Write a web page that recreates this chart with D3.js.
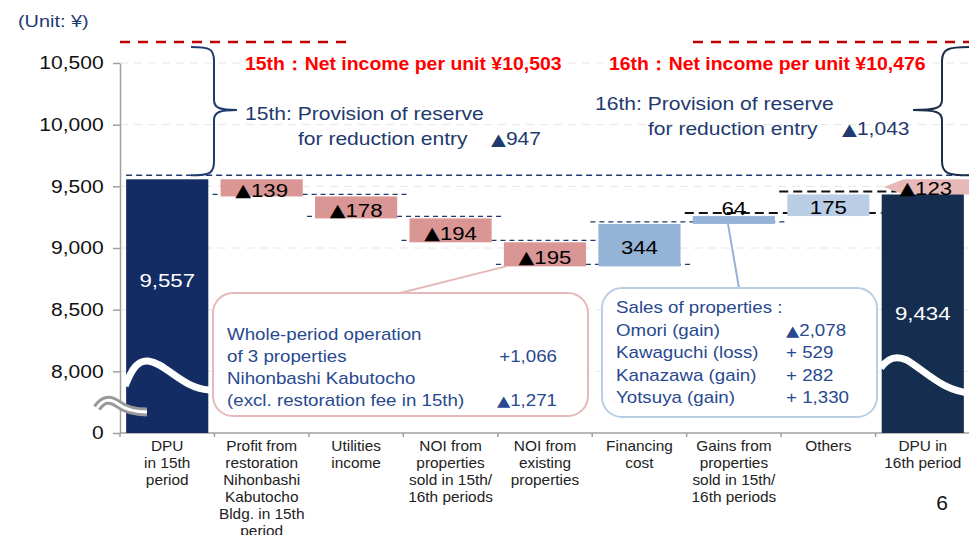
<!DOCTYPE html>
<html>
<head>
<meta charset="utf-8">
<script src="https://cdn.jsdelivr.net/npm/d3@7"></script>
<style>
  html, body { margin: 0; padding: 0; background: #fff; }
  svg { display: block; font-family: "Liberation Sans", Arial, sans-serif; }
</style>
</head>
<body>
<svg id="chart" width="969" height="535"></svg>
<script>
// ---- data ----
var categories = ["dpu15", "restoration", "utilities", "noiSold", "noiExisting", "financing", "gains", "others", "dpu16"];
var categoryLines = [
	["DPU", "in 15th", "period"],
	["Profit from", "restoration", "Nihonbashi", "Kabutocho", "Bldg. in 15th", "period"],
	["Utilities", "income"],
	["NOI from", "properties", "sold in 15th/", "16th periods"],
	["NOI from", "existing", "properties"],
	["Financing", "cost"],
	["Gains from", "properties", "sold in 15th/", "16th periods"],
	["Others"],
	["DPU in", "16th period"]
];
var changes = [9557, -139, -178, -194, -195, 344, 64, 175, 9434];
var isTotal = [true, false, false, false, false, false, false, false, true];
var barLabels = ["9,557", "▲139", "▲178", "▲194", "▲195", "344", "64", "175", "9,434"];
var diff16 = { from: 9557, to: 9434, label: "▲123" };
var yTicks = [7500, 8000, 8500, 9000, 9500, 10000, 10500];
var yTickLabels = ["0", "8,000", "8,500", "9,000", "9,500", "10,000", "10,500"];
var netIncome = [
	{ label: "15th\uFF1ANet income per unit \u00A510,503" },
	{ label: "16th\uFF1ANet income per unit \u00A510,476" }
];
var reserve15 = ["15th: Provision of reserve", "for reduction entry", "▲947"];
var reserve16 = ["16th: Provision of reserve", "for reduction entry", "▲1,043"];
var pinkNote = [
	["Whole-period operation", ""],
	["of 3 properties", "+1,066"],
	["Nihonbashi Kabutocho", ""],
	["(excl. restoration fee in 15th)", "▲1,271"]
];
var blueNote = [
	["Sales of properties :", ""],
	["Omori (gain)", "▲2,078"],
	["Kawaguchi (loss)", "+ 529"],
	["Kanazawa (gain)", "+ 282"],
	["Yotsuya (gain)", "+ 1,330"]
];

// ---- styles ----
var barFills = ["#142c64", "#d99694", "#d99694", "#d99694", "#d99694", "#95b3d7", "#95b3d7", "#b9cde5", "#152e4f"];
var navy = "#1f3a6e", noteBlue = "#28498f";
var SX = 1.17;

var svg = d3.select("#chart");
var width = +svg.attr("width");

var x = d3.scaleBand()
	.domain(categories)
	.range([120, 970])
	.paddingInner(0.13)
	.paddingOuter(0.065);

var y = d3.scaleLinear()
	.domain([7500, 10500])
	.range([433, 63]);

// text with the slide's slightly wide letterforms; ▲ drawn from DejaVu (bigger glyph)
function addText(sel, px, py, s, o) {
	o = o || {};
	var t = sel.append("text")
		.attr("transform", "translate(" + px + "," + py + ") scale(" + (o.sx || SX) + ",1)")
		.attr("text-anchor", o.anchor || "start")
		.attr("dominant-baseline", o.baseline || "auto")
		.attr("font-size", o.size || 16)
		.attr("font-weight", o.weight || "normal")
		.attr("fill", o.fill || "#000");
	var parts = s.split("▲");
	if (parts.length === 1) {
		t.text(s);
	} else {
		parts.forEach(function(p, k) {
			if (k > 0) t.append("tspan").attr("font-family", "DejaVu Sans").attr("font-size", "0.92em").text("▲");
			if (p) t.append("tspan").text(p);
		});
	}
	return t;
}

// running totals
var bars = [];
var level = 0;
changes.forEach(function(v, i) {
	var start, end;
	if (isTotal[i]) { start = 7500; end = v; level = v; }
	else { start = level; end = level + v; level = end; }
	bars.push({ cat: categories[i], start: start, end: end, label: barLabels[i], fill: barFills[i], i: i });
});

// gridlines
svg.append("g")
	.selectAll("line")
	.data(yTicks.slice(1))
	.enter().append("line")
	.attr("x1", 120).attr("x2", width)
	.attr("y1", function(d) { return y(d); })
	.attr("y2", function(d) { return y(d); })
	.attr("stroke", "#e6e6e6")
	.attr("stroke-dasharray", "8,6");

// y axis
var yAxis = svg.append("g")
	.attr("transform", "translate(120,0)")
	.call(d3.axisLeft(y).tickValues(yTicks).tickFormat(function(d, i) { return yTickLabels[i]; })
		.tickSize(7).tickSizeOuter(0).tickPadding(7));
yAxis.select(".domain").attr("stroke", "#a0a0a0").attr("stroke-width", 1.5);
yAxis.selectAll(".tick line").attr("stroke", "#a0a0a0").attr("stroke-width", 1.5);
yAxis.selectAll(".tick text")
	.attr("font-size", 18)
	.attr("font-family", "Liberation Sans, Arial, sans-serif")
	.attr("fill", "#111")
	.attr("transform", "scale(" + SX + ",1)");

// x axis
var step = x.step();
svg.append("line")
	.attr("x1", 120).attr("x2", width)
	.attr("y1", y(7500)).attr("y2", y(7500))
	.attr("stroke", "#a0a0a0").attr("stroke-width", 1.5);
svg.append("g").selectAll("line")
	.data(d3.range(categories.length + 1))
	.enter().append("line")
	.attr("x1", function(i) { return 120 + i * step; })
	.attr("x2", function(i) { return 120 + i * step; })
	.attr("y1", y(7500)).attr("y2", y(7500) + 4)
	.attr("stroke", "#a0a0a0").attr("stroke-width", 1.5);

var xLabels = svg.append("g");
categoryLines.forEach(function(lines, i) {
	lines.forEach(function(s, k) {
		addText(xLabels, x(categories[i]) + x.bandwidth() / 2, 451 + k * 17, s,
			{ anchor: "middle", size: 14, sx: 1.1, fill: "#222" });
	});
});

// ---- connectors (behind bars) ----
var conn = svg.append("g");
conn.append("line")
	.attr("x1", x(categories[0])).attr("x2", width)
	.attr("y1", y(changes[0]) - 4).attr("y2", y(changes[0]) - 4)
	.attr("stroke", navy).attr("stroke-width", 1.5).attr("stroke-dasharray", "6,4");

for (var i = 1; i <= 7; i++) {
	var lv = bars[i].end;
	var x1 = x(categories[i]) - 8;
	var x2 = i + 2 < categories.length ? x(categories[i + 2]) : x(categories[8]) + 15;
	var black = i >= 6;
	conn.append("line")
		.attr("x1", x1).attr("x2", x2)
		.attr("y1", y(lv) - (black ? 3 : 2)).attr("y2", y(lv) - (black ? 3 : 2))
		.attr("stroke", black ? "#111" : navy)
		.attr("stroke-width", black ? 2 : 1.3)
		.attr("stroke-dasharray", black ? "9,5" : "5,4");
}

// 16th difference wedge
var xd = x(categories[8]);
var yt = y(diff16.from), yb = y(diff16.to), ym = (yt + yb) / 2;
svg.append("path")
	.attr("d", "M" + (xd + 2) + "," + ym + "L" + (xd + 22) + "," + yt + "L" + (width + 30) + "," + yt +
		"L" + (width + 30) + "," + yb + "L" + (xd + 22) + "," + yb + "Z")
	.attr("fill", "#e6b9b8");

// ---- bars ----
svg.append("g")
	.selectAll("rect")
	.data(bars)
	.enter().append("rect")
	.attr("x", function(d) { return x(d.cat); })
	.attr("width", x.bandwidth())
	.attr("y", function(d) { return y(Math.max(d.start, d.end)); })
	.attr("height", function(d) { return Math.abs(y(d.start) - y(d.end)); })
	.attr("fill", function(d) { return d.fill; });

// bar labels
var lab = svg.append("g");
bars.forEach(function(d) {
	var cx = x(d.cat) + x.bandwidth() / 2;
	if (d.i === 0) {
		addText(lab, cx, y(8740), d.label, { anchor: "middle", baseline: "central", size: 19, fill: "#fff" });
	} else if (d.i === 8) {
		addText(lab, cx, y(8475), d.label, { anchor: "middle", baseline: "central", size: 19, fill: "#fff" });
	} else if (d.i === 6) {
		addText(lab, cx, y(d.end) - 8, d.label, { anchor: "middle", baseline: "central", size: 19 });
	} else {
		var cy = (y(d.start) + y(d.end)) / 2 + 2;
		addText(lab, cx, cy, d.label, { anchor: "middle", baseline: "central", size: 19 });
	}
});
addText(lab, xd + x.bandwidth() / 2 + 3, ym + 1, diff16.label, { anchor: "middle", baseline: "central", size: 19 });

// axis-break waves
var wave = svg.append("g").attr("fill", "none").attr("stroke", "#fff").attr("stroke-width", 7);
var x0 = x(categories[0]), bw = x.bandwidth();
wave.append("path")
	.attr("d", "M" + (x0 - 1) + ",386 C" + (x0 + 6) + ",368 " + (x0 + 12) + ",360 " + (x0 + 22) + ",361 C" +
		(x0 + 40) + ",363 " + (x0 + 55) + ",388 " + (x0 + bw + 1) + ",390");
wave.append("path")
	.attr("d", "M" + (xd - 1) + ",368 C" + (xd + 6) + ",358 " + (xd + 14) + ",355 " + (xd + 25) + ",360 C" +
		(xd + 45) + ",372 " + (xd + 62) + ",392 " + (xd + bw + 8) + ",393");

var brk = "M97,408 C103,399 110,398 118,404 C126,410 134,412 147,412";
svg.append("path").attr("d", brk).attr("fill", "none").attr("stroke", "#999").attr("stroke-width", 9);
svg.append("path").attr("d", brk).attr("fill", "none").attr("stroke", "#fff").attr("stroke-width", 3);

// ---- top annotations ----
var topY = y(10500) - 21;
svg.append("line").attr("x1", 120).attr("x2", 346).attr("y1", topY).attr("y2", topY)
	.attr("stroke", "#c00000").attr("stroke-width", 2.5).attr("stroke-dasharray", "10,8");
svg.append("line").attr("x1", 693).attr("x2", width).attr("y1", topY).attr("y2", topY)
	.attr("stroke", "#c00000").attr("stroke-width", 2.5).attr("stroke-dasharray", "10,8");

addText(svg, 18, 27, "(Unit: \u00A5)", { size: 17, fill: navy });
addText(svg, 245, 70, netIncome[0].label, { size: 18, weight: "bold", fill: "#ff0000", sx: 1.08 });
addText(svg, 609, 70, netIncome[1].label, { size: 18, weight: "bold", fill: "#ff0000", sx: 1.08 });

addText(svg, 245, 120, reserve15[0], { size: 18, fill: navy });
addText(svg, 298, 145, reserve15[1], { size: 18, fill: navy });
addText(svg, 491, 145, reserve15[2], { size: 18, fill: navy });
addText(svg, 595, 110, reserve16[0], { size: 18, fill: navy });
addText(svg, 648, 135, reserve16[1], { size: 18, fill: navy });
addText(svg, 842, 135, reserve16[2], { size: 18, fill: navy });

// braces
var bTop = topY + 5, bBot = y(changes[0]) - 4, bMid = 110;
svg.append("path")
	.attr("d", "M191," + bTop + " C210," + bTop + " 214," + (bTop + 2) + " 214," + (bTop + 14) +
		" L214," + (bMid - 10) + " C214," + (bMid - 2) + " 220," + bMid + " 237," + bMid +
		" C220," + bMid + " 214," + (bMid + 2) + " 214," + (bMid + 10) +
		" L214," + (bBot - 14) + " C214," + (bBot - 2) + " 210," + bBot + " 191," + bBot)
	.attr("fill", "none").attr("stroke", navy).attr("stroke-width", 2);
svg.append("path")
	.attr("d", "M969," + bTop + " C948," + bTop + " 942," + (bTop + 2) + " 942," + (bTop + 14) +
		" L942," + (bMid - 10) + " C942," + (bMid - 2) + " 936," + bMid + " 913," + bMid +
		" C936," + bMid + " 942," + (bMid + 2) + " 942," + (bMid + 10) +
		" L942," + (bBot - 14) + " C942," + (bBot - 2) + " 948," + bBot + " 969," + bBot)
	.attr("fill", "none").attr("stroke", "#1c2e4a").attr("stroke-width", 2);

// ---- callout boxes ----
svg.append("line").attr("x1", 400).attr("y1", 293).attr("x2", x(categories[4]) + 2).attr("y2", y(bars[4].end))
	.attr("stroke", "#e6b9b8").attr("stroke-width", 2);
svg.append("rect").attr("x", 213).attr("y", 293).attr("width", 375).attr("height", 123)
	.attr("rx", 20).attr("fill", "#fff").attr("stroke", "#e6b9b8").attr("stroke-width", 2);
pinkNote.forEach(function(r, k) {
	addText(svg, 227, 340 + k * 22, r[0], { size: 16, fill: noteBlue });
	if (r[1]) addText(svg, 557, 340 + k * 22, r[1], { size: 16, fill: noteBlue, anchor: "end" });
});

svg.append("line").attr("x1", 739).attr("y1", 288).attr("x2", 728).attr("y2", y(bars[6].start))
	.attr("stroke", "#95b3d7").attr("stroke-width", 2);
svg.append("rect").attr("x", 602).attr("y", 288).attr("width", 275).attr("height", 129)
	.attr("rx", 20).attr("fill", "#fff").attr("stroke", "#b9cde5").attr("stroke-width", 2);
blueNote.forEach(function(r, k) {
	addText(svg, 616, 313 + k * 22.5, r[0], { size: 16, fill: noteBlue });
	if (r[1]) addText(svg, 786, 313 + k * 22.5, r[1], { size: 16, fill: noteBlue });
});

// page number
addText(svg, 942, 510, "6", { size: 21, anchor: "middle", fill: "#111", sx: 1 });
</script>
</body>
</html>
